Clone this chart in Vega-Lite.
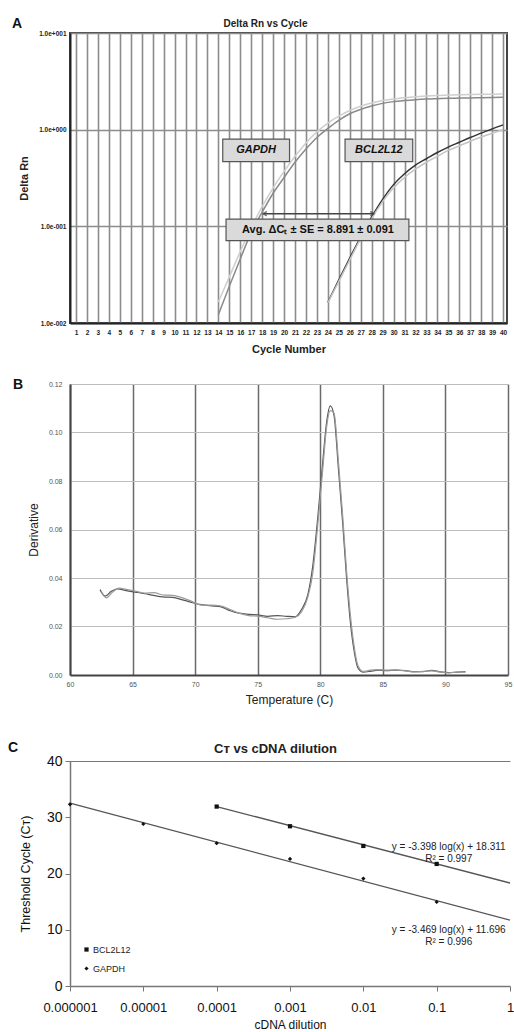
{
"$schema": "https://vega.github.io/schema/vega-lite/v6.json",
"padding": {"left": 8, "top": 16, "right": 0, "bottom": 0},
"background": "white",
"config": {"font": "Liberation Sans", "view": {"stroke": null}},
"datasets": {
"amp": [
{"cycle":14,"rn":0.0122,"series":"GAPDH-1"},{"cycle":15,"rn":0.024,"series":"GAPDH-1"},{"cycle":16,"rn":0.046,"series":"GAPDH-1"},{"cycle":17,"rn":0.086,"series":"GAPDH-1"},{"cycle":18,"rn":0.14,"series":"GAPDH-1"},{"cycle":19,"rn":0.22,"series":"GAPDH-1"},{"cycle":20,"rn":0.32,"series":"GAPDH-1"},{"cycle":21,"rn":0.46,"series":"GAPDH-1"},{"cycle":22,"rn":0.63,"series":"GAPDH-1"},{"cycle":23,"rn":0.83,"series":"GAPDH-1"},{"cycle":24,"rn":1.03,"series":"GAPDH-1"},{"cycle":25,"rn":1.25,"series":"GAPDH-1"},{"cycle":26,"rn":1.46,"series":"GAPDH-1"},{"cycle":27,"rn":1.62,"series":"GAPDH-1"},{"cycle":28,"rn":1.76,"series":"GAPDH-1"},{"cycle":29,"rn":1.87,"series":"GAPDH-1"},{"cycle":30,"rn":1.95,"series":"GAPDH-1"},{"cycle":31,"rn":2.0,"series":"GAPDH-1"},{"cycle":32,"rn":2.04,"series":"GAPDH-1"},{"cycle":33,"rn":2.07,"series":"GAPDH-1"},{"cycle":34,"rn":2.09,"series":"GAPDH-1"},{"cycle":35,"rn":2.11,"series":"GAPDH-1"},{"cycle":36,"rn":2.12,"series":"GAPDH-1"},{"cycle":37,"rn":2.13,"series":"GAPDH-1"},{"cycle":38,"rn":2.14,"series":"GAPDH-1"},{"cycle":39,"rn":2.15,"series":"GAPDH-1"},{"cycle":40,"rn":2.16,"series":"GAPDH-1"},
{"cycle":14,"rn":0.0165,"series":"GAPDH-2"},{"cycle":15,"rn":0.03,"series":"GAPDH-2"},{"cycle":16,"rn":0.055,"series":"GAPDH-2"},{"cycle":17,"rn":0.097,"series":"GAPDH-2"},{"cycle":18,"rn":0.16,"series":"GAPDH-2"},{"cycle":19,"rn":0.25,"series":"GAPDH-2"},{"cycle":20,"rn":0.37,"series":"GAPDH-2"},{"cycle":21,"rn":0.53,"series":"GAPDH-2"},{"cycle":22,"rn":0.73,"series":"GAPDH-2"},{"cycle":23,"rn":0.95,"series":"GAPDH-2"},{"cycle":24,"rn":1.17,"series":"GAPDH-2"},{"cycle":25,"rn":1.38,"series":"GAPDH-2"},{"cycle":26,"rn":1.58,"series":"GAPDH-2"},{"cycle":27,"rn":1.75,"series":"GAPDH-2"},{"cycle":28,"rn":1.89,"series":"GAPDH-2"},{"cycle":29,"rn":2.0,"series":"GAPDH-2"},{"cycle":30,"rn":2.08,"series":"GAPDH-2"},{"cycle":31,"rn":2.14,"series":"GAPDH-2"},{"cycle":32,"rn":2.19,"series":"GAPDH-2"},{"cycle":33,"rn":2.23,"series":"GAPDH-2"},{"cycle":34,"rn":2.26,"series":"GAPDH-2"},{"cycle":35,"rn":2.28,"series":"GAPDH-2"},{"cycle":36,"rn":2.3,"series":"GAPDH-2"},{"cycle":37,"rn":2.31,"series":"GAPDH-2"},{"cycle":38,"rn":2.32,"series":"GAPDH-2"},{"cycle":39,"rn":2.33,"series":"GAPDH-2"},{"cycle":40,"rn":2.34,"series":"GAPDH-2"},
{"cycle":24,"rn":0.0164,"series":"BCL2L12-1"},{"cycle":25,"rn":0.028,"series":"BCL2L12-1"},{"cycle":26,"rn":0.047,"series":"BCL2L12-1"},{"cycle":27,"rn":0.078,"series":"BCL2L12-1"},{"cycle":28,"rn":0.125,"series":"BCL2L12-1"},{"cycle":29,"rn":0.19,"series":"BCL2L12-1"},{"cycle":30,"rn":0.27,"series":"BCL2L12-1"},{"cycle":31,"rn":0.35,"series":"BCL2L12-1"},{"cycle":32,"rn":0.43,"series":"BCL2L12-1"},{"cycle":33,"rn":0.5,"series":"BCL2L12-1"},{"cycle":34,"rn":0.58,"series":"BCL2L12-1"},{"cycle":35,"rn":0.66,"series":"BCL2L12-1"},{"cycle":36,"rn":0.74,"series":"BCL2L12-1"},{"cycle":37,"rn":0.83,"series":"BCL2L12-1"},{"cycle":38,"rn":0.92,"series":"BCL2L12-1"},{"cycle":39,"rn":1.02,"series":"BCL2L12-1"},{"cycle":40,"rn":1.12,"series":"BCL2L12-1"},
{"cycle":24,"rn":0.0162,"series":"BCL2L12-2"},{"cycle":25,"rn":0.027,"series":"BCL2L12-2"},{"cycle":26,"rn":0.045,"series":"BCL2L12-2"},{"cycle":27,"rn":0.075,"series":"BCL2L12-2"},{"cycle":28,"rn":0.12,"series":"BCL2L12-2"},{"cycle":29,"rn":0.18,"series":"BCL2L12-2"},{"cycle":30,"rn":0.25,"series":"BCL2L12-2"},{"cycle":31,"rn":0.32,"series":"BCL2L12-2"},{"cycle":32,"rn":0.39,"series":"BCL2L12-2"},{"cycle":33,"rn":0.46,"series":"BCL2L12-2"},{"cycle":34,"rn":0.53,"series":"BCL2L12-2"},{"cycle":35,"rn":0.61,"series":"BCL2L12-2"},{"cycle":36,"rn":0.68,"series":"BCL2L12-2"},{"cycle":37,"rn":0.76,"series":"BCL2L12-2"},{"cycle":38,"rn":0.84,"series":"BCL2L12-2"},{"cycle":39,"rn":0.92,"series":"BCL2L12-2"},{"cycle":40,"rn":1.0,"series":"BCL2L12-2"}
],
"boxes": [
{"label":"GAPDH","kind":"gene","x1":14.4,"x2":20.5,"y1":0.467,"y2":0.8,"xc":17.45,"yc":0.611},
{"label":"BCL2L12","kind":"gene","x1":25.57,"x2":31.75,"y1":0.467,"y2":0.8,"xc":28.66,"yc":0.611},
{"label":"Avg. ΔCₜ ± SE = 8.891 ± 0.091","kind":"stat","x1":14.7,"x2":31.4,"y1":0.071,"y2":0.119,"xc":23.1,"yc":0.0919}
],
"arrow": [{"x1":18.1,"x2":28.2,"y":0.135}],
"heads": [{"x":18.1,"y":0.135,"dir":"left"},{"x":28.2,"y":0.135,"dir":"right"}],
"melt": [
{"temp":62.4,"deriv":0.0352,"rep":"1"},{"temp":62.8,"deriv":0.0325,"rep":"1"},{"temp":63.3,"deriv":0.0345,"rep":"1"},{"temp":63.8,"deriv":0.0355,"rep":"1"},{"temp":64.5,"deriv":0.0348,"rep":"1"},{"temp":65.2,"deriv":0.0342,"rep":"1"},{"temp":66.0,"deriv":0.0335,"rep":"1"},{"temp":66.7,"deriv":0.0328,"rep":"1"},{"temp":67.4,"deriv":0.0322,"rep":"1"},{"temp":68.2,"deriv":0.032,"rep":"1"},{"temp":69.0,"deriv":0.031,"rep":"1"},{"temp":69.8,"deriv":0.0298,"rep":"1"},{"temp":70.5,"deriv":0.029,"rep":"1"},{"temp":71.3,"deriv":0.0285,"rep":"1"},{"temp":72.0,"deriv":0.0282,"rep":"1"},{"temp":72.8,"deriv":0.0265,"rep":"1"},{"temp":73.5,"deriv":0.0255,"rep":"1"},{"temp":74.3,"deriv":0.025,"rep":"1"},{"temp":75.0,"deriv":0.0248,"rep":"1"},{"temp":75.8,"deriv":0.0242,"rep":"1"},{"temp":76.6,"deriv":0.0245,"rep":"1"},{"temp":77.3,"deriv":0.0242,"rep":"1"},{"temp":78.0,"deriv":0.024,"rep":"1"},{"temp":78.5,"deriv":0.027,"rep":"1"},{"temp":79.0,"deriv":0.033,"rep":"1"},{"temp":79.4,"deriv":0.045,"rep":"1"},{"temp":79.8,"deriv":0.065,"rep":"1"},{"temp":80.2,"deriv":0.088,"rep":"1"},{"temp":80.5,"deriv":0.104,"rep":"1"},{"temp":80.8,"deriv":0.111,"rep":"1"},{"temp":81.1,"deriv":0.107,"rep":"1"},{"temp":81.45,"deriv":0.085,"rep":"1"},{"temp":81.8,"deriv":0.062,"rep":"1"},{"temp":82.1,"deriv":0.04,"rep":"1"},{"temp":82.4,"deriv":0.022,"rep":"1"},{"temp":82.7,"deriv":0.01,"rep":"1"},{"temp":83.0,"deriv":0.003,"rep":"1"},{"temp":83.4,"deriv":0.0012,"rep":"1"},{"temp":84.0,"deriv":0.0015,"rep":"1"},{"temp":84.6,"deriv":0.002,"rep":"1"},{"temp":85.3,"deriv":0.0018,"rep":"1"},{"temp":86.0,"deriv":0.002,"rep":"1"},{"temp":86.8,"deriv":0.0018,"rep":"1"},{"temp":87.5,"deriv":0.0014,"rep":"1"},{"temp":88.2,"deriv":0.0014,"rep":"1"},{"temp":88.9,"deriv":0.0019,"rep":"1"},{"temp":89.6,"deriv":0.0013,"rep":"1"},{"temp":90.3,"deriv":0.001,"rep":"1"},{"temp":91.0,"deriv":0.0012,"rep":"1"},{"temp":91.6,"deriv":0.0014,"rep":"1"},
{"temp":62.5,"deriv":0.0345,"rep":"2"},{"temp":62.9,"deriv":0.0318,"rep":"2"},{"temp":63.4,"deriv":0.0342,"rep":"2"},{"temp":63.9,"deriv":0.0358,"rep":"2"},{"temp":64.6,"deriv":0.0352,"rep":"2"},{"temp":65.3,"deriv":0.0345,"rep":"2"},{"temp":66.0,"deriv":0.0338,"rep":"2"},{"temp":66.7,"deriv":0.034,"rep":"2"},{"temp":67.4,"deriv":0.033,"rep":"2"},{"temp":68.2,"deriv":0.0328,"rep":"2"},{"temp":69.0,"deriv":0.0318,"rep":"2"},{"temp":69.8,"deriv":0.0302,"rep":"2"},{"temp":70.5,"deriv":0.0288,"rep":"2"},{"temp":71.3,"deriv":0.0288,"rep":"2"},{"temp":72.0,"deriv":0.0285,"rep":"2"},{"temp":72.8,"deriv":0.027,"rep":"2"},{"temp":73.5,"deriv":0.0255,"rep":"2"},{"temp":74.3,"deriv":0.0245,"rep":"2"},{"temp":75.0,"deriv":0.0243,"rep":"2"},{"temp":75.8,"deriv":0.0236,"rep":"2"},{"temp":76.6,"deriv":0.023,"rep":"2"},{"temp":77.3,"deriv":0.0232,"rep":"2"},{"temp":78.0,"deriv":0.0238,"rep":"2"},{"temp":78.5,"deriv":0.026,"rep":"2"},{"temp":79.0,"deriv":0.032,"rep":"2"},{"temp":79.4,"deriv":0.042,"rep":"2"},{"temp":79.8,"deriv":0.062,"rep":"2"},{"temp":80.2,"deriv":0.085,"rep":"2"},{"temp":80.5,"deriv":0.102,"rep":"2"},{"temp":80.8,"deriv":0.109,"rep":"2"},{"temp":81.1,"deriv":0.108,"rep":"2"},{"temp":81.45,"deriv":0.088,"rep":"2"},{"temp":81.8,"deriv":0.065,"rep":"2"},{"temp":82.1,"deriv":0.043,"rep":"2"},{"temp":82.4,"deriv":0.025,"rep":"2"},{"temp":82.7,"deriv":0.012,"rep":"2"},{"temp":83.0,"deriv":0.004,"rep":"2"},{"temp":83.4,"deriv":0.0015,"rep":"2"},{"temp":84.0,"deriv":0.002,"rep":"2"},{"temp":84.6,"deriv":0.0022,"rep":"2"},{"temp":85.3,"deriv":0.002,"rep":"2"},{"temp":86.0,"deriv":0.0021,"rep":"2"},{"temp":86.8,"deriv":0.0017,"rep":"2"},{"temp":87.5,"deriv":0.0013,"rep":"2"},{"temp":88.2,"deriv":0.0015,"rep":"2"},{"temp":88.9,"deriv":0.0017,"rep":"2"},{"temp":89.6,"deriv":0.0012,"rep":"2"},{"temp":90.3,"deriv":0.0009,"rep":"2"},{"temp":91.0,"deriv":0.0013,"rep":"2"},{"temp":91.6,"deriv":0.0012,"rep":"2"}
],
"ct": [
{"dilution":0.000001,"ct":32.3,"gene":"GAPDH"},{"dilution":0.00001,"ct":28.8,"gene":"GAPDH"},{"dilution":0.0001,"ct":25.4,"gene":"GAPDH"},{"dilution":0.001,"ct":22.6,"gene":"GAPDH"},{"dilution":0.01,"ct":19.1,"gene":"GAPDH"},{"dilution":0.1,"ct":14.95,"gene":"GAPDH"},
{"dilution":0.0001,"ct":31.9,"gene":"BCL2L12"},{"dilution":0.001,"ct":28.4,"gene":"BCL2L12"},{"dilution":0.01,"ct":24.9,"gene":"BCL2L12"},{"dilution":0.1,"ct":21.7,"gene":"BCL2L12"}
],
"fit": [
{"dilution":0.000001,"ct":32.51,"gene":"GAPDH"},{"dilution":1,"ct":11.696,"gene":"GAPDH"},
{"dilution":0.0001,"ct":31.903,"gene":"BCL2L12"},{"dilution":1,"ct":18.311,"gene":"BCL2L12"}
],
"eq": [
{"label":"y = -3.398 log(x) + 18.311","dilution":0.146,"ct":24.7},
{"label":"R² = 0.997","dilution":0.146,"ct":22.6},
{"label":"y = -3.469 log(x) + 11.696","dilution":0.146,"ct":9.9},
{"label":"R² = 0.996","dilution":0.146,"ct":7.8}
]
},
"resolve": {"scale": {"shape": "independent", "color": "independent"}, "legend": {"shape": "independent", "color": "independent"}},
"spacing": 36,
"vconcat": [
{"spacing": 22,
 "resolve": {"scale": {"color": "independent"}, "legend": {"color": "independent"}},
 "vconcat": [
 {"width": 437, "height": 290,
  "title": {"text": "A", "anchor": "start", "frame": "group", "dx": -58, "offset": 0, "dy": 13, "fontSize": 14, "fontWeight": "bold", "color": "#111"},
  "view": {"stroke": "#444", "strokeWidth": 2},
  "resolve": {"axis": {"x": "independent"}},
  "layer": [
   {"data": {"name": "amp"},
    "mark": {"type": "line", "strokeWidth": 1.5, "interpolate": "monotone", "clip": true},
    "encoding": {
     "x": {"field": "cycle", "type": "quantitative", "scale": {"domain": [0.45, 40.36], "nice": false, "zero": false},
       "axis": {"values": [1,2,3,4,5,6,7,8,9,10,11,12,13,14,15,16,17,18,19,20,21,22,23,24,25,26,27,28,29,30,31,32,33,34,35,36,37,38,39,40],
         "labelOverlap": false, "labelFlush": false, "labelBound": false,
         "title": "Cycle Number", "grid": true, "gridColor": "#8c8c8c", "gridWidth": 1.6, "ticks": false,
         "labelFontSize": 6.5, "labelFontWeight": "bold", "labelColor": "#222", "labelPadding": 6,
         "domainColor": "#222", "domainWidth": 2, "titleFontSize": 11, "titleFontWeight": "bold", "titleColor": "#222", "titlePadding": 8}},
     "y": {"field": "rn", "type": "quantitative", "scale": {"type": "log", "domain": [0.01, 10], "nice": false},
       "axis": {"values": [0.01, 0.1, 1, 10],
         "labelExpr": "datum.value >= 5 ? '1.0e+001' : datum.value >= 0.5 ? '1.0e+000' : datum.value >= 0.05 ? '1.0e-001' : '1.0e-002'",
         "labelOverlap": false, "labelFlush": false,
         "title": "Delta Rn", "grid": true, "gridColor": "#8c8c8c", "gridWidth": 1.6, "ticks": false,
         "labelFontSize": 6.5, "labelFontWeight": "bold", "labelColor": "#222", "labelPadding": 4,
         "domainColor": "#222", "domainWidth": 2, "titleFontSize": 11, "titleFontWeight": "bold", "titleColor": "#222", "titlePadding": 9}},
     "color": {"field": "series", "type": "nominal", "legend": null,
       "scale": {"domain": ["GAPDH-1", "GAPDH-2", "BCL2L12-1", "BCL2L12-2"], "range": ["#8a8a8a", "#cfcfcf", "#333333", "#c4c4c4"]}}
    }},
   {"data": {"name": "arrow"},
    "mark": {"type": "rule", "color": "#444", "strokeWidth": 1.5},
    "encoding": {"x": {"field": "x1", "type": "quantitative", "axis": null}, "x2": {"field": "x2"}, "y": {"field": "y", "type": "quantitative"}}},
   {"data": {"name": "heads"},
    "transform": [{"filter": "datum.dir == 'left'"}],
    "mark": {"type": "point", "shape": "M1.6,-1L0,0L1.6,1", "filled": false, "stroke": "#444", "strokeWidth": 1.5, "size": 20},
    "encoding": {"x": {"field": "x", "type": "quantitative", "axis": null}, "y": {"field": "y", "type": "quantitative"}}},
   {"data": {"name": "heads"},
    "transform": [{"filter": "datum.dir == 'right'"}],
    "mark": {"type": "point", "shape": "M-1.6,-1L0,0L-1.6,1", "filled": false, "stroke": "#444", "strokeWidth": 1.5, "size": 20},
    "encoding": {"x": {"field": "x", "type": "quantitative", "axis": null}, "y": {"field": "y", "type": "quantitative"}}},
   {"data": {"name": "boxes"},
    "mark": {"type": "rect", "fill": "#dadada", "stroke": "#555", "strokeWidth": 1.2},
    "encoding": {"x": {"field": "x1", "type": "quantitative", "axis": null}, "x2": {"field": "x2"}, "y": {"field": "y1", "type": "quantitative"}, "y2": {"field": "y2"}}},
   {"data": {"name": "boxes"},
    "transform": [{"filter": "datum.kind == 'gene'"}],
    "mark": {"type": "text", "fontSize": 11, "fontWeight": "bold", "fontStyle": "italic", "color": "#111"},
    "encoding": {"x": {"field": "xc", "type": "quantitative",
       "axis": {"orient": "top", "title": "Delta Rn vs Cycle", "labels": false, "ticks": false, "domain": false, "grid": false,
         "titleFontSize": 10, "titleFontWeight": "bold", "titleColor": "#222", "titleX": 195, "titleY": -7, "titleBaseline": "alphabetic", "titleAlign": "center"}},
     "y": {"field": "yc", "type": "quantitative"}, "text": {"field": "label"}}},
   {"data": {"name": "boxes"},
    "transform": [{"filter": "datum.kind == 'stat'"}],
    "mark": {"type": "text", "fontSize": 11, "fontWeight": "bold", "color": "#111"},
    "encoding": {"x": {"field": "xc", "type": "quantitative", "axis": null}, "y": {"field": "yc", "type": "quantitative"}, "text": {"field": "label"}}}
  ]},
 {"width": 438, "height": 291,
  "title": {"text": "B", "anchor": "start", "frame": "group", "dx": -57, "offset": -12, "fontSize": 14, "fontWeight": "bold", "color": "#111"},
  "data": {"name": "melt"},
  "mark": {"type": "line", "strokeWidth": 1.2, "interpolate": "monotone"},
  "encoding": {
   "x": {"field": "temp", "type": "quantitative", "scale": {"domain": [60, 95], "nice": false, "zero": false},
     "axis": {"values": [60, 65, 70, 75, 80, 85, 90, 95], "labelFlush": false, "title": "Temperature (C)", "grid": true, "gridColor": "#6a6a6a", "gridWidth": 1.5, "ticks": false,
       "labelFontSize": 7, "labelColor": "#555", "labelPadding": 5, "domainColor": "#444", "domainWidth": 2,
       "titleFontSize": 12, "titleFontWeight": "normal", "titleColor": "#222", "titlePadding": 7}},
   "y": {"field": "deriv", "type": "quantitative", "scale": {"domain": [0, 0.12], "nice": false},
     "axis": {"values": [0, 0.02, 0.04, 0.06, 0.08, 0.1, 0.12], "format": ".2f", "labelFlush": false, "title": "Derivative", "grid": true, "gridColor": "#bdbdbd", "gridWidth": 1.2, "ticks": false,
       "labelFontSize": 7, "labelColor": "#555", "labelPadding": 8, "domainColor": "#444", "domainWidth": 2,
       "titleFontSize": 12, "titleFontWeight": "normal", "titleColor": "#222", "titlePadding": 8}},
   "color": {"field": "rep", "type": "nominal", "legend": null, "scale": {"domain": ["1", "2"], "range": ["#555555", "#9a9a9a"]}}
  }}
]},
{"width": 440, "height": 225,
  "title": {"text": "C", "anchor": "start", "frame": "group", "dx": -62, "offset": -13, "fontSize": 14, "fontWeight": "bold", "color": "#111"},
  "resolve": {"axis": {"x": "independent"}},
  "layer": [
   {"data": {"name": "fit"},
    "mark": {"type": "line", "color": "#555", "strokeWidth": 1.3},
    "encoding": {
     "x": {"field": "dilution", "type": "quantitative", "scale": {"type": "log", "domain": [0.000001, 1], "nice": false},
       "axis": {"values": [0.000001, 0.00001, 0.0001, 0.001, 0.01, 0.1, 1],
         "labelExpr": "['0.000001','0.00001','0.0001','0.001','0.01','0.1','1'][round(log(datum.value)/LN10)+6]",
         "labelFlush": false, "labelOverlap": false,
         "title": "cDNA dilution", "grid": false, "tickSize": 5, "tickColor": "#777", "domainColor": "#777", "domainWidth": 1.5,
         "labelFontSize": 13, "labelColor": "#111", "labelPadding": 10, "titleFontSize": 12, "titleFontWeight": "normal", "titleColor": "#111", "titlePadding": 5}},
     "y": {"field": "ct", "type": "quantitative", "scale": {"domain": [0, 40], "nice": false},
       "axis": {"values": [0, 5, 10, 15, 20, 25, 30, 35, 40], "labelFlush": false, "title": "Threshold Cycle (Cᴛ)", "grid": true, "gridColor": "#777",
         "gridOpacity": {"condition": {"test": "datum.value === 40", "value": 1}, "value": 0},
         "tickSize": 5, "tickColor": "#777", "domainColor": "#777", "domainWidth": 1.5,
         "labelFontSize": 14, "labelColor": "#111", "labelPadding": 3, "titleFontSize": 12.5, "titleFontWeight": "normal", "titleColor": "#111", "titlePadding": 14}},
     "detail": {"field": "gene"}
    }},
   {"data": {"name": "ct"},
    "mark": {"type": "point", "filled": true, "color": "#111", "opacity": 1},
    "encoding": {
     "x": {"field": "dilution", "type": "quantitative", "axis": null},
     "y": {"field": "ct", "type": "quantitative"},
     "shape": {"field": "gene", "type": "nominal", "scale": {"domain": ["BCL2L12", "GAPDH"], "range": ["square", "diamond"]},
       "legend": {"title": null, "orient": "bottom-left", "offset": 12, "labelFontSize": 9, "labelColor": "#222", "symbolSize": 18, "symbolFillColor": "#111", "symbolStrokeColor": "#111", "rowPadding": 8, "labelOffset": 2, "padding": 0}},
     "size": {"value": 18}
    }},
   {"data": {"name": "eq"},
    "mark": {"type": "text", "fontSize": 10, "color": "#222"},
    "encoding": {"x": {"field": "dilution", "type": "quantitative",
       "axis": {"orient": "top", "title": "Cᴛ vs cDNA dilution", "labels": false, "ticks": false, "domain": false, "grid": false,
         "titleFontSize": 13, "titleFontWeight": "bold", "titleColor": "#222", "titleX": 205, "titleY": -9, "titleBaseline": "alphabetic", "titleAlign": "center"}},
     "y": {"field": "ct", "type": "quantitative"}, "text": {"field": "label"}}}
  ]}
]
}
